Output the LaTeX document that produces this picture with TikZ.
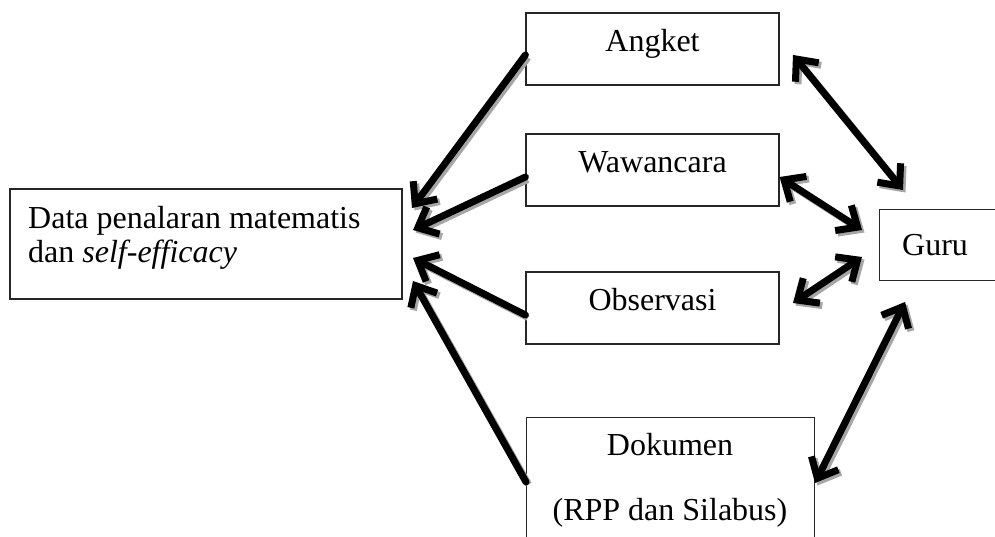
\documentclass[tikz,border=0pt]{standalone}
\usepackage{fontspec}
\setmainfont{Liberation Serif}
\usetikzlibrary{arrows.meta}
\begin{document}
\begin{tikzpicture}[x=1pt,y=-1pt,
  box/.style={draw=black!85, line width=1.2pt, rectangle, inner sep=0pt, fill=white},
  lbl/.style={font=\fontsize{32}{34}\selectfont, inner sep=0pt},
  boxtext/.style={box, lbl, text height=12pt, text depth=7pt},
  barb/.tip={Straight Barb[length=17pt,width=30pt]},
  conn/.style={line width=7pt, line cap=round, -barb,
    preaction={draw=black!35, line width=7pt, transform canvas={shift={(2.5,2.5)}}}},
  both/.style={conn, barb-barb}
]
\useasboundingbox (0,0) rectangle (995,537);

% boxes
\node[box, minimum width=392pt, minimum height=110pt] (data) at (206,244) {};
\node[lbl, anchor=base west, align=left] (datatext) at (28,262) {Data penalaran matematis\\dan \textit{self-efficacy}};

\node[boxtext, minimum width=253pt, minimum height=72pt] (angket) at (652.5,49) {Angket};
\node[boxtext, minimum width=253pt, minimum height=72pt] (waw) at (652.5,170) {Wawancara};
\node[boxtext, minimum width=253pt, minimum height=72pt] (obs) at (652.5,308) {Observasi};

\node[box, anchor=north west, minimum width=288pt, minimum height=150pt] (dok) at (526,417) {};
\node[lbl, anchor=base, align=center] (doktext) at (670,520) {Dokumen\\[31pt](RPP dan Silabus)};

\node[box, anchor=north west, minimum width=140pt, minimum height=71pt] (guru) at (879,209) {};
\node[lbl, anchor=base west] (gurutext) at (902,255) {Guru};

% free ends of connectors
\coordinate (t1) at (412,208);
\coordinate (t2) at (413,230);
\coordinate (t3) at (413,258);
\coordinate (t4) at (413,281);
\coordinate (a1) at (793,55);
\coordinate (g1) at (903,190);
\coordinate (g2) at (862,230);
\coordinate (o3) at (793,303);
\coordinate (g3) at (862,257);
\coordinate (g4) at (905,302);

% left arrows
\draw[conn] ([yshift=-6pt]angket.west) -- (t1);
\draw[conn] ([yshift=-7pt]waw.west) -- (t2);
\draw[conn] ([yshift=-7pt]obs.west) -- (t3);
\draw[conn] (526,482) -- (t4);

% right double arrows
\draw[both] (a1) -- (g1);
\draw[both] ([yshift=-7pt]waw.east) -- (g2);
\draw[both] (o3) -- (g3);
\draw[both] (815,483) -- (g4);
\end{tikzpicture}
\end{document}
